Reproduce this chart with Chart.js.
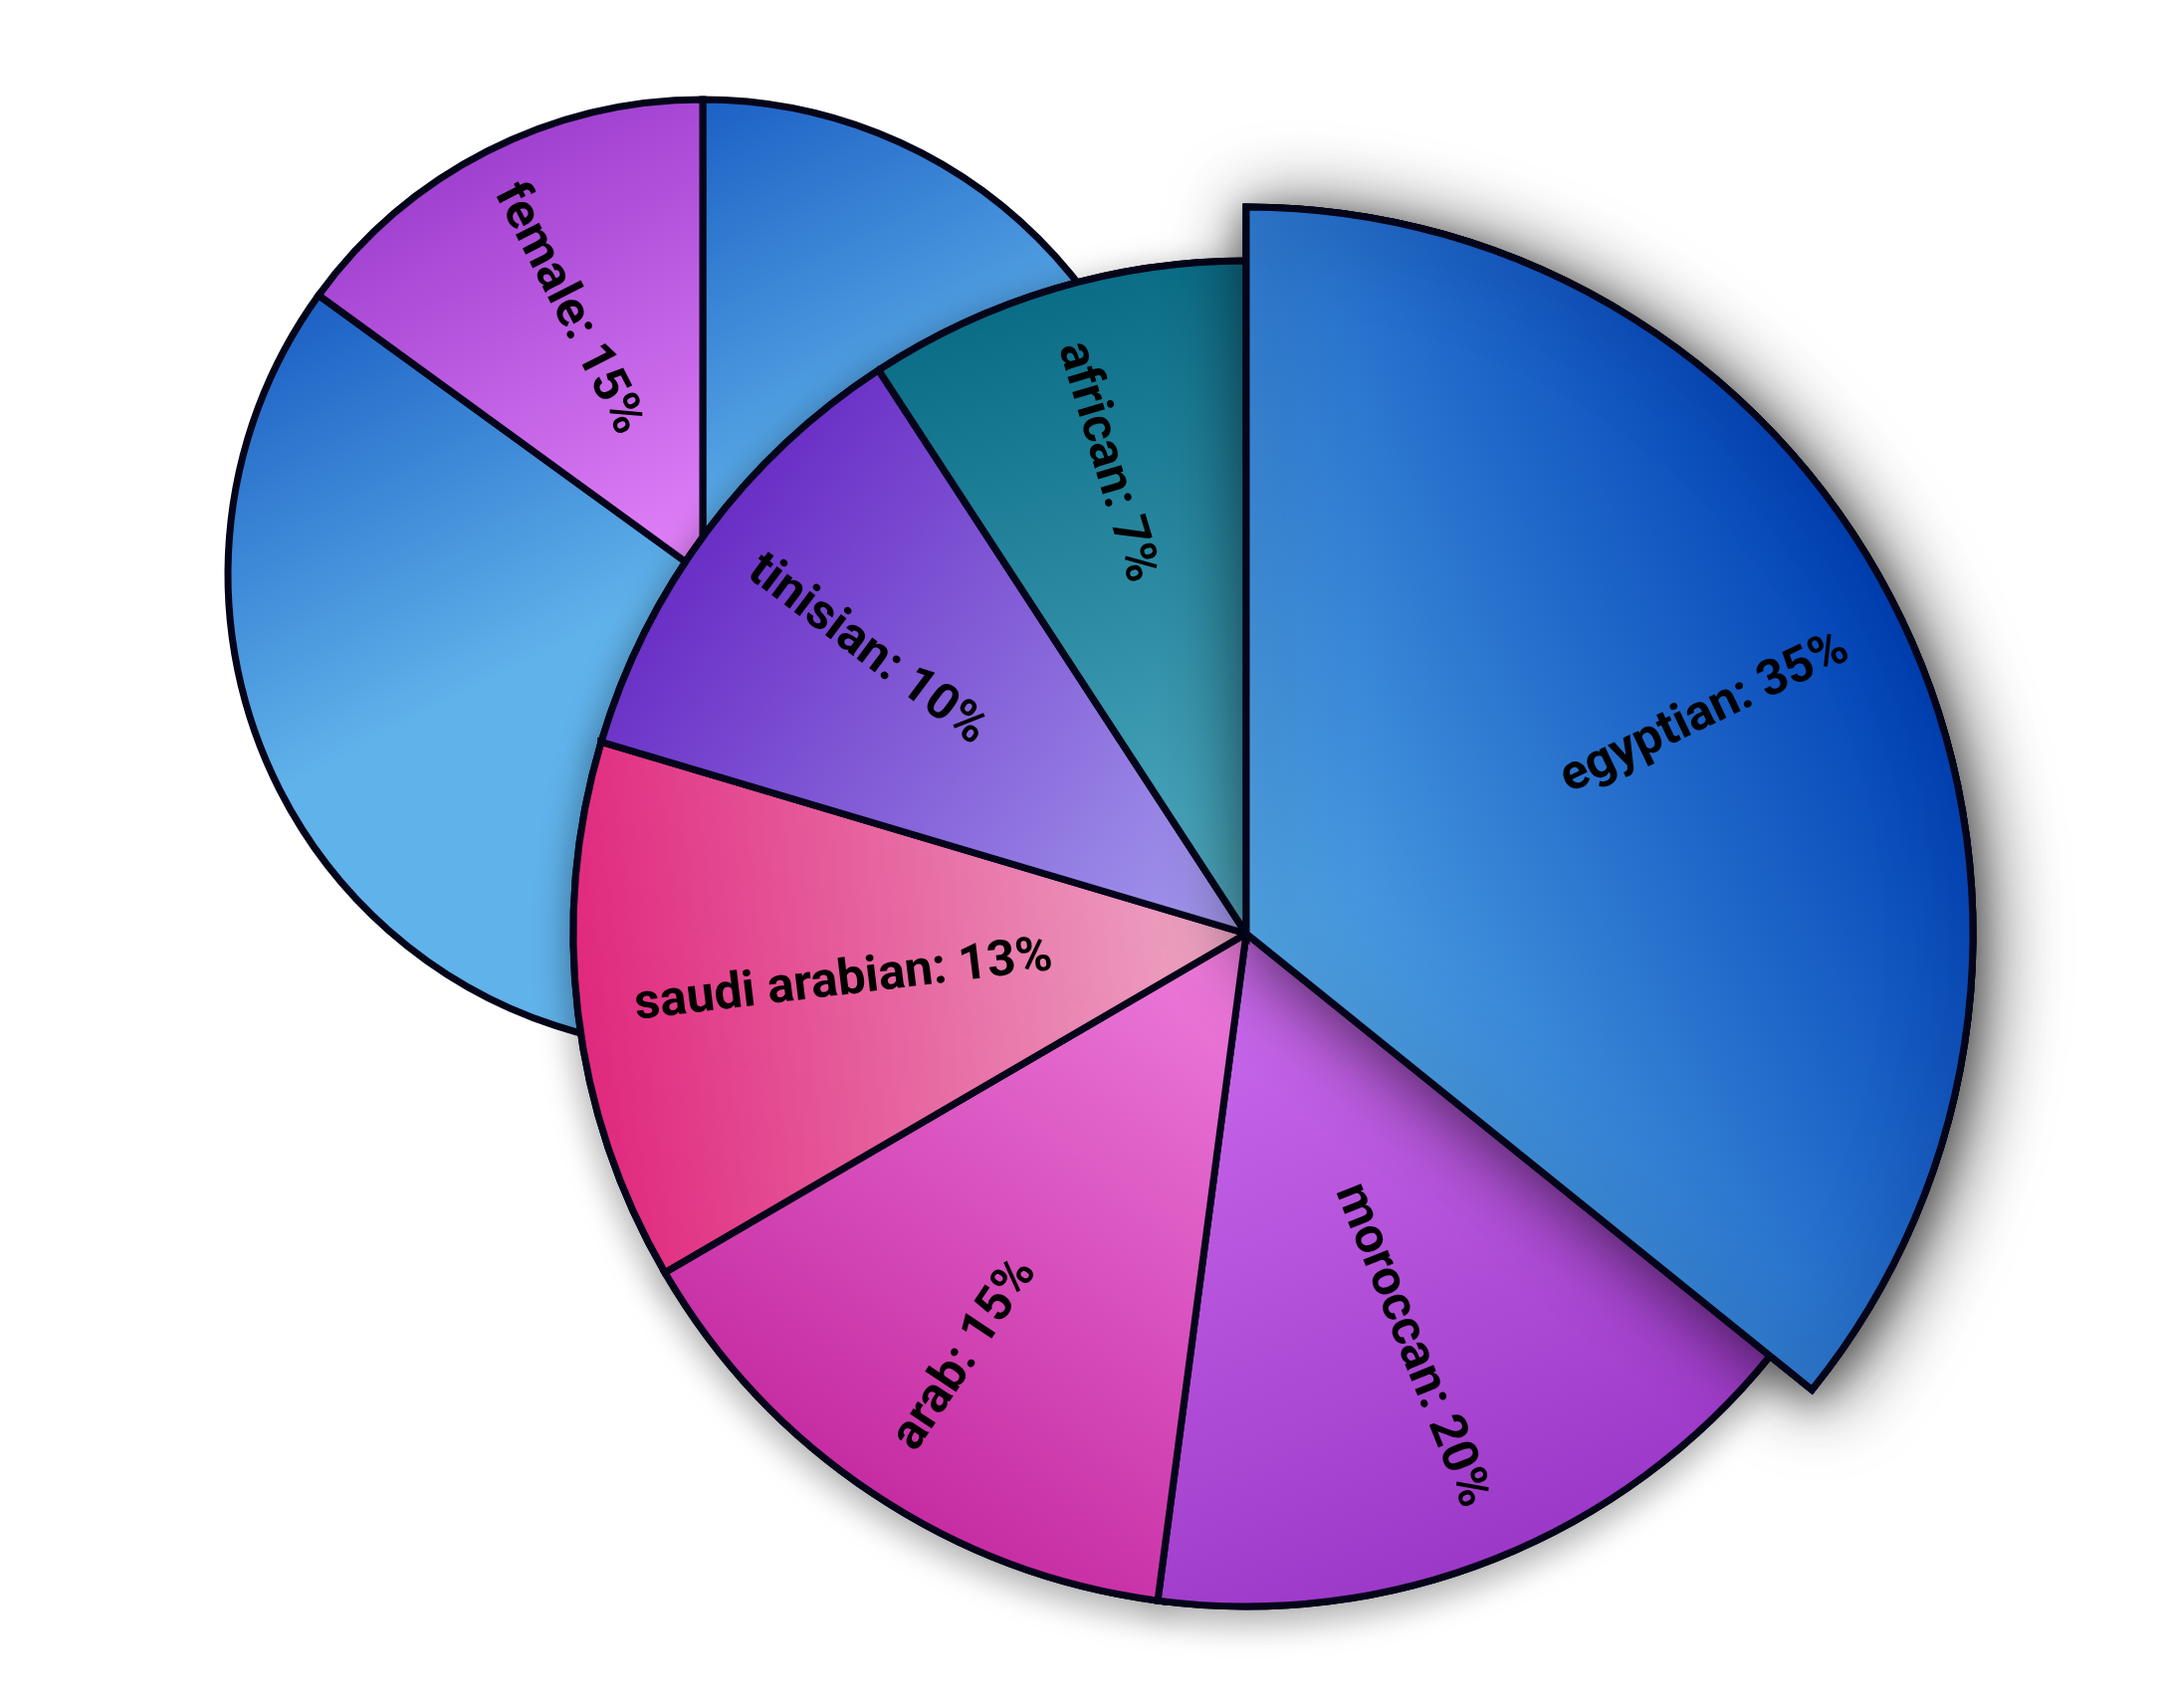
<!DOCTYPE html>
<html>
<head>
<meta charset="utf-8">
<title>Nationality and gender pies</title>
<script src="https://cdn.jsdelivr.net/npm/chart.js@4.4.1/dist/chart.umd.min.js"></script>
<style>
    html, body { margin: 0; padding: 0; background: #ffffff; }
    .stage { position: relative; width: 2172px; height: 1716px; }
    .stage canvas { position: absolute; left: 0; top: 0; }
</style>
</head>
<body>
<div class="stage">
    <canvas id="groupChart" width="2172" height="1716"></canvas>
    <canvas id="originChart" width="2172" height="1716"></canvas>
</div>
<script>
// Back pie (gender)
const groupLabels = ['male', 'female'];
const groupShares = [85, 15];
const groupPercents = ['85%', '15%'];

// Front pie (nationality) - slice sizes, label text as printed
const originLabels = ['egyptian', 'moroccan', 'arab', 'saudi arabian', 'tinisian', 'african'];
const originShares = [35.8, 16.3, 14.5, 13.0, 11.2, 9.2];
const originPercents = ['35%', '20%', '15%', '13%', '10%', '7%'];

// [rim colour, colour at the centre]
const groupPalette = [
    ['#1456c0', '#60b2ea'],
    ['#a040d0', '#e484fa']
];
const originPalette = [
    ['#0040b6', '#52a6e6'],
    ['#9c38c8', '#cc6cee'],
    ['#c62ca2', '#ee7ede'],
    ['#e0287e', '#eeaac6'],
    ['#6a2ec6', '#a49cee'],
    ['#0a6c86', '#52aec4']
];

const LABEL_FONT = 'bold 50px Roboto';
const BORDER_COLOR = '#05051a';

/**
 * Linear gradient from the rim (dark) to the centre (light),
 * along the slice's middle direction (flipped for slices over half the pie)
 */
function sliceGradient(context, palette, enlarge) {
    const chart = context.chart;
    const area = chart.chartArea;
    const pair = palette[context.dataIndex];
    if (!area) return pair[0];

    const values = chart.data.datasets[context.datasetIndex].data;
    const total = values.reduce((s, v) => s + v, 0);
    let before = 0;
    for (let i = 0; i < context.dataIndex; i++) before += values[i];
    const span = values[context.dataIndex] / total * Math.PI * 2;
    let mid = -Math.PI / 2 + before / total * Math.PI * 2 + span / 2;
    if (span > Math.PI) mid += Math.PI;

    let r = chart.getDatasetMeta(context.datasetIndex).controller.outerRadius || 0;
    if (enlarge && context.dataIndex === enlarge.index) r *= enlarge.scale;

    const cx = (area.left + area.right) / 2;
    const cy = (area.top + area.bottom) / 2;
    const g = chart.ctx.createLinearGradient(cx + Math.cos(mid) * r, cy + Math.sin(mid) * r, cx, cy);
    g.addColorStop(0, pair[0]);
    g.addColorStop(1, pair[1]);
    return g;
}

/**
 * Plugin: disc shadow, one enlarged + lifted slice, radial labels
 */
function makeDecor(cfg) {
    return {
        id: 'sliceDecor',
        afterDatasetUpdate(chart, args) {
            if (!cfg.enlarge) return;
            const arc = args.meta.data[cfg.enlarge.index];
            if (arc) arc.outerRadius = args.meta.controller.outerRadius * cfg.enlarge.scale;
        },
        beforeDatasetsDraw(chart) {
            if (!cfg.discShadow) return;
            const ctx = chart.ctx;
            ctx.save();
            Object.assign(ctx, cfg.discShadow);
            chart.getDatasetMeta(0).data.forEach(arc => arc.draw(ctx));
            ctx.restore();
        },
        afterDatasetsDraw(chart) {
            const ctx = chart.ctx;
            const meta = chart.getDatasetMeta(0);

            // Redraw the enlarged slice on top with its own shadow
            if (cfg.enlarge && cfg.liftShadow) {
                ctx.save();
                Object.assign(ctx, cfg.liftShadow);
                meta.data[cfg.enlarge.index].draw(ctx);
                ctx.restore();
            }

            // Labels run along the radius, ending near the rim
            meta.data.forEach((arc, i) => {
                const mid = (arc.startAngle + arc.endAngle) / 2;
                const r = arc.outerRadius * cfg.labelRadius;
                const outward = Math.cos(mid) >= 0;
                ctx.save();
                ctx.translate(arc.x + Math.cos(mid) * r, arc.y + Math.sin(mid) * r);
                ctx.rotate(outward ? mid : mid + Math.PI);
                ctx.textAlign = outward ? 'right' : 'left';
                ctx.textBaseline = 'middle';
                ctx.font = LABEL_FONT;
                ctx.fillStyle = '#000000';
                ctx.fillText(`${cfg.labels[i]}: ${cfg.percents[i]}`, 0, 0);
                ctx.restore();
            });
        }
    };
}

function pieOptions(radius, padding) {
    return {
        responsive: false,
        animation: false,
        events: [],
        radius: radius,
        layout: { padding: padding },
        plugins: {
            legend: { display: false },
            tooltip: { enabled: false }
        }
    };
}

function init() {
    const originEnlarge = { index: 0, scale: 1.08 };

    new Chart(document.getElementById('groupChart'), {
        type: 'pie',
        data: {
            labels: groupLabels,
            datasets: [{
                data: groupShares,
                backgroundColor: (c) => sliceGradient(c, groupPalette, null),
                borderColor: BORDER_COLOR,
                borderWidth: 7,
                borderJoinStyle: 'miter'
            }]
        },
        options: pieOptions(477, { left: 0, right: 760, top: 0, bottom: 562 }),
        plugins: [makeDecor({
            labels: groupLabels,
            percents: groupPercents,
            labelRadius: 0.915
        })]
    });

    new Chart(document.getElementById('originChart'), {
        type: 'pie',
        data: {
            labels: originLabels,
            datasets: [{
                data: originShares,
                backgroundColor: (c) => sliceGradient(c, originPalette, originEnlarge),
                borderColor: BORDER_COLOR,
                borderWidth: 7,
                borderJoinStyle: 'miter'
            }]
        },
        options: pieOptions(676, { left: 332, right: 0, top: 160, bottom: 0 }),
        plugins: [makeDecor({
            labels: originLabels,
            percents: originPercents,
            labelRadius: 0.915,
            enlarge: originEnlarge,
            discShadow: { shadowColor: 'rgba(0,0,0,0.35)', shadowBlur: 36, shadowOffsetX: 0, shadowOffsetY: 10 },
            liftShadow: { shadowColor: 'rgba(0,0,0,0.7)', shadowBlur: 80, shadowOffsetX: 8, shadowOffsetY: 8 }
        })]
    });
}

document.fonts.load(LABEL_FONT).then(init, init);
</script>
</body>
</html>
